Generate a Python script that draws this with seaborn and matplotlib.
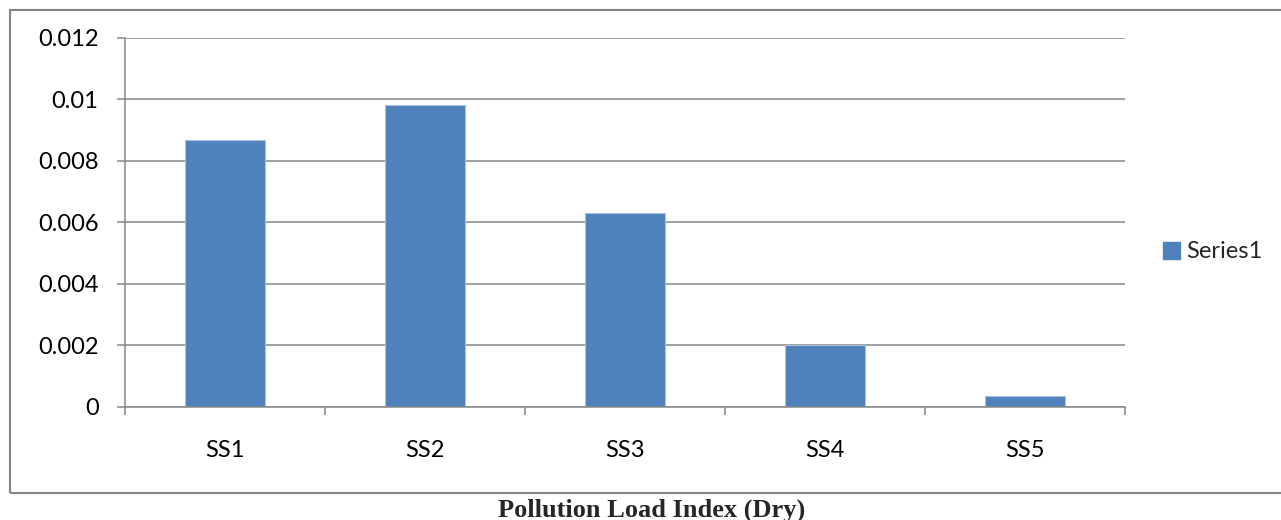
import matplotlib
matplotlib.use("Agg")
import matplotlib.pyplot as plt
import matplotlib.patches as mpatches
from matplotlib.ticker import FuncFormatter, FixedLocator
import seaborn as sns
import pandas as pd

categories = ["SS1", "SS2", "SS3", "SS4", "SS5"]
values = [0.00868, 0.00983, 0.00629, 0.00202, 0.00034]
series_name = "Series1"
y_ticks = [0, 0.002, 0.004, 0.006, 0.008, 0.01, 0.012]
title = "Pollution Load Index (Dry)"

sns.set_theme(style="white")
plt.rcParams["font.family"] = ["Lato", "DejaVu Sans"]

W, H, DPI = 1281, 520, 100
fig = plt.figure(figsize=(W / DPI, H / DPI), dpi=DPI)
ax = fig.add_axes([125 / W, 1 - 406.7 / H, 1000 / W, (406.7 - 38) / H])

df = pd.DataFrame({"cat": categories, "val": values, "series": series_name})
bar_color = "#4F81BD"
sns.barplot(data=df, x="cat", y="val", hue="series", palette=[bar_color],
            saturation=1, width=0.4, ax=ax, edgecolor="#a9c2df", linewidth=0.8,
            legend=False, zorder=3)

grid_c = "#868686"
ax.set_ylim(0, 0.012)
ax.set_xlim(-0.5, 4.5)
ax.yaxis.set_major_locator(FixedLocator(y_ticks))
ax.yaxis.set_major_formatter(FuncFormatter(lambda v, p: f"{v:g}"))
ax.grid(axis="y", color=grid_c, linewidth=1.1, zorder=0)
ax.set_axisbelow(True)

for s in ["top", "right"]:
    ax.spines[s].set_visible(False)
for s in ["left", "bottom"]:
    ax.spines[s].set_color(grid_c)
    ax.spines[s].set_linewidth(1.1)
    ax.spines[s].set_zorder(4)

ax.tick_params(axis="y", which="major", direction="out", length=6, width=1.1,
               color=grid_c, labelsize=17, pad=13, left=True,
               labelcolor="black")
ax.set_xticks(range(len(categories)))
ax.set_xticklabels(categories)
ax.tick_params(axis="x", which="major", length=0, labelsize=17, pad=24,
               labelcolor="black")
ax.set_xticks([i - 0.5 for i in range(len(categories) + 1)], minor=True)
ax.tick_params(axis="x", which="minor", direction="out", length=6, width=1.1,
               color=grid_c, bottom=True)
ax.set_xlabel("")
ax.set_ylabel("")

handle = mpatches.Patch(color=bar_color, label=series_name)
leg = fig.legend(handles=[handle], loc="center left",
                 bbox_to_anchor=(1163 / W, 1 - 252 / H), frameon=False,
                 fontsize=17, handlelength=0.7, handleheight=0.7,
                 handletextpad=0.3, borderpad=0, borderaxespad=0)

# outer chart border
rect = mpatches.Rectangle((9.5 / W, 1 - 492.7 / H), (1300 - 9.5) / W,
                          (492.7 - 9.5) / H, transform=fig.transFigure,
                          fill=False, edgecolor=grid_c, linewidth=1.5,
                          clip_on=False)
fig.patches.append(rect)

fig.text(652 / W, 1 - 517 / H, title, ha="center", va="baseline",
         fontsize=19, fontweight="bold", family=["Liberation Serif", "DejaVu Serif"])

fig.savefig("out.png", dpi=DPI, facecolor="white")
